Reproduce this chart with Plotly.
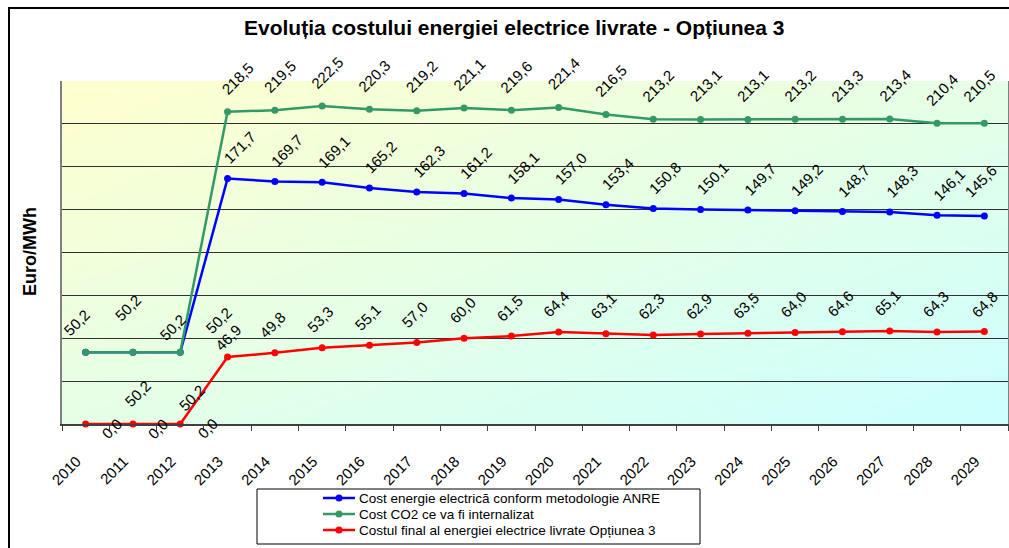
import zlib, struct, base64
import plotly.graph_objects as go

# ---------------- data ----------------
years = [str(y) for y in range(2010, 2030)]
cost_energie = [50.2, 50.2, 50.2, 171.7, 169.7, 169.1, 165.2, 162.3, 161.2, 158.1,
                157.0, 153.4, 150.8, 150.1, 149.7, 149.2, 148.7, 148.3, 146.1, 145.6]
cost_co2 = [50.2, 50.2, 50.2, 218.5, 219.5, 222.5, 220.3, 219.2, 221.1, 219.6,
            221.4, 216.5, 213.2, 213.1, 213.1, 213.2, 213.3, 213.4, 210.4, 210.5]
cost_final = [0.0, 0.0, 0.0, 46.9, 49.8, 53.3, 55.1, 57.0, 60.0, 61.5,
              64.4, 63.1, 62.3, 62.9, 63.5, 64.0, 64.6, 65.1, 64.3, 64.8]
series_names = ["Cost energie electrică conform metodologie ANRE",
                "Cost CO2 ce va fi internalizat",
                "Costul final al energiei electrice livrate Opțiunea 3"]
title_text = "Evoluția costului energiei electrice livrate - Opțiunea 3"
y_title = "Euro/MWh"

# ---------------- styles ----------------
OFF = 0   # body margin removed by post_script below
W, H = 1009 - OFF, 548 - OFF
L, R, T, B = 62 - OFF, 1, 81 - OFF, 124   # plot area (window px) 62..1008 x 81..424
colors = ["#0000FF", "#339966", "#FF0000"]
FONT = "Arial, Liberation Sans, sans-serif"
LABEL_SIZE = 15
# label offsets (dx, dy) in screen px; overrides for individual points
label_offsets = [(12, -31), (5, -34), (-2, -28)]
label_overrides = [
    {0: (52, 41), 1: (59, 45), 2: (38, -32), 19: (-3, -35)},
    {0: (-9, -30), 1: (-5, -45), 2: (-8, -25), 3: (10, -33), 19: (-5, -38)},
    {0: (26, 4), 1: (25, 4), 2: (27, 4), 3: (1, -19), 19: (0, -27)},
]
legend_rows_y = [498, 514, 530]
legend_line_x = (323, 355)
legend_text_x = 357

PW, PH = W - L - R, H - T - B
def px(x):
    return (x - OFF - L) / PW
def py(y):
    return (H - B - (y - OFF)) / PH


def png_data_uri(w, h, fn):
    raw = bytearray()
    for j in range(h):
        raw.append(0)
        for i in range(w):
            raw += bytes(fn(i / (w - 1), j / (h - 1)))

    def chunk(t, d):
        c = struct.pack('>I', len(d)) + t + d
        return c + struct.pack('>I', zlib.crc32(t + d) & 0xffffffff)
    png = (b'\x89PNG\r\n\x1a\n'
           + chunk(b'IHDR', struct.pack('>IIBBBBB', w, h, 8, 2, 0, 0, 0))
           + chunk(b'IDAT', zlib.compress(bytes(raw), 9))
           + chunk(b'IEND', b''))
    return 'data:image/png;base64,' + base64.b64encode(png).decode()


def grad(u, v):
    t = (u + v) / 2
    c0 = (255, 255, 206)
    c1 = (204, 255, 255)
    return tuple(int(round(a + (b - a) * t)) for a, b in zip(c0, c1))


fig = go.Figure()
all_series = [cost_energie, cost_co2, cost_final]
for name, vals, col in zip(series_names, all_series, colors):
    fig.add_trace(go.Scatter(
        x=years, y=vals, name=name, mode="lines+markers",
        line=dict(color=col, width=2.5),
        marker=dict(color=col, size=7, symbol="circle"),
        showlegend=False, cliponaxis=False,
    ))

annotations = []
for k, vals in enumerate(all_series):
    for i, v in enumerate(vals):
        dx, dy = label_overrides[k].get(i, label_offsets[k])
        annotations.append(dict(
            x=i, y=v, xref="x", yref="y", text=f"{v:.1f}".replace(".", ","),
            showarrow=False, textangle=-45, xanchor="center", yanchor="middle",
            xshift=dx, yshift=-dy, font=dict(family=FONT, size=LABEL_SIZE, color="black"),
        ))

annotations.append(dict(
    x=px(30), y=py(252), xref="paper", yref="paper", text=y_title,
    showarrow=False, textangle=-90, xanchor="center", yanchor="middle",
    font=dict(family=FONT, size=18, color="black", weight="bold"),
))
annotations.append(dict(
    x=px(514), y=py(28), xref="paper", yref="paper", text=title_text,
    showarrow=False, xanchor="center", yanchor="middle",
    font=dict(family=FONT, size=21, color="black", weight="bold"),
))

shapes = [
    # outer chart frame
    dict(type="rect", xref="paper", yref="paper", x0=px(9), y0=py(8), x1=px(1030), y1=py(570),
         line=dict(color="black", width=2), fillcolor="rgba(0,0,0,0)", layer="above"),
    # legend box
    dict(type="rect", xref="paper", yref="paper", x0=px(257), y0=py(489), x1=px(700), y1=py(544),
         line=dict(color="black", width=1), fillcolor="white", layer="above"),
]
# manual legend (line + marker sample, text)
for name, col, ry in zip(series_names, colors, legend_rows_y):
    shapes.append(dict(type="line", xref="paper", yref="paper",
                       x0=px(legend_line_x[0]), x1=px(legend_line_x[1]), y0=py(ry), y1=py(ry),
                       line=dict(color=col, width=2.5), layer="above"))
    cx = (legend_line_x[0] + legend_line_x[1]) / 2
    shapes.append(dict(type="circle", xref="paper", yref="paper",
                       x0=px(cx - 3.5), x1=px(cx + 3.5), y0=py(ry + 3.5), y1=py(ry - 3.5),
                       line=dict(color=col, width=0), fillcolor=col, layer="above"))
    annotations.append(dict(
        x=px(legend_text_x), y=py(ry), xref="paper", yref="paper", text=name,
        showarrow=False, xanchor="left", yanchor="middle",
        font=dict(family=FONT, size=13.5, color="black"),
    ))

fig.update_layout(
    width=W, height=H,
    margin=dict(l=L, r=R, t=T, b=B, pad=0, autoexpand=False),
    paper_bgcolor="white", plot_bgcolor="rgba(0,0,0,0)",
    font=dict(family=FONT, color="black"),
    showlegend=False,
    annotations=annotations,
    shapes=shapes,
    images=[dict(source=png_data_uri(160, 80, grad), xref="x domain", yref="y domain",
                 x=0, y=1, sizex=1, sizey=1, sizing="stretch", xanchor="left", yanchor="top",
                 layer="below")],
)
fig.update_xaxes(
    type="category", range=[-0.5, 19.5], tickangle=-45, automargin=False,
    tickfont=dict(family=FONT, size=15, color="black"),
    ticks="outside", ticklen=5, tickcolor="#404040", tickson="boundaries",
    showline=True, linecolor="#404040", linewidth=1.5, mirror=False,
    showgrid=False, ticklabelstandoff=21, ticklabelshift=-9,
)
fig.update_yaxes(
    range=[0, 240], dtick=30, showticklabels=False, ticks="", automargin=False,
    showgrid=True, gridcolor="#303030", gridwidth=1,
    showline=True, linecolor="#808080", linewidth=1.5, mirror=True, zeroline=False,
)

fig.write_html("out.html", config={"displayModeBar": False},
               post_script="document.body.style.margin='0';document.body.style.overflow='hidden';")
